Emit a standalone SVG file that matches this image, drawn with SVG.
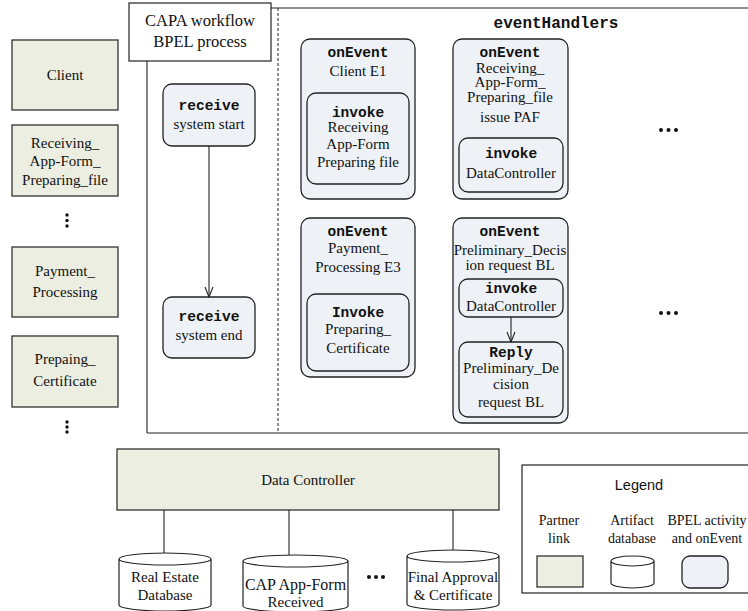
<svg xmlns="http://www.w3.org/2000/svg" width="748" height="611" viewBox="0 0 748 611">
<defs>
<style>
.pl{fill:#ebeee0;stroke:#333;stroke-width:1.3}
.act{fill:#eef1f6;stroke:#222;stroke-width:1.3}
.db{fill:#fff;stroke:#222;stroke-width:1.2}
.ln{fill:none;stroke:#222;stroke-width:1.1}
.t{font-family:"Liberation Serif","Times New Roman",serif;font-size:15px;fill:#111;text-anchor:middle}
.m{font-family:"Liberation Mono","Courier New",monospace;font-size:14.5px;font-weight:bold;fill:#111;text-anchor:middle}
.s{font-family:"Liberation Sans",Arial,sans-serif;font-size:14.5px;fill:#111;text-anchor:middle}
.lg{font-size:14px}
.dot{fill:#111}
</style>
<marker id="arr" viewBox="0 0 12 10" refX="11" refY="5" markerWidth="12" markerHeight="10" markerUnits="userSpaceOnUse" orient="auto">
<path d="M1,1 L11,5 L1,9" fill="none" stroke="#222" stroke-width="1.1"/>
</marker>
</defs>
<rect width="748" height="611" fill="#fff"/>

<!-- process frame -->
<g id="process-frame">
<line class="ln" x1="147" y1="61" x2="147" y2="433"/>
<line class="ln" x1="147" y1="433" x2="748" y2="433"/>
<line class="ln" x1="271" y1="8" x2="748" y2="8"/>
<line x1="278" y1="8" x2="278" y2="433" stroke="#222" stroke-width="1" stroke-dasharray="3,2"/>
<text class="m" x="556" y="28" style="font-size:16px">eventHandlers</text>
</g>

<g id="capa">
<rect x="129" y="3" width="142" height="58" fill="#fff" stroke="#222" stroke-width="1.2"/>
<text class="t" x="200" y="26" style="font-size:16.5px">CAPA workflow</text>
<text class="t" x="200" y="47" style="font-size:16.5px">BPEL process</text>
</g>

<!-- partner links -->
<g id="client">
<rect class="pl" x="12" y="40" width="106" height="70"/>
<text class="t" x="65" y="80">Client</text>
</g>
<g id="receiving">
<rect class="pl" x="12" y="125" width="106" height="71"/>
<text class="t" x="65" y="148">Receiving_</text>
<text class="t" x="65" y="166">App-Form_</text>
<text class="t" x="65" y="185">Preparing_file</text>
</g>
<g id="dots-left-1">
<circle class="dot" cx="67" cy="215" r="1.7"/>
<circle class="dot" cx="67" cy="220.5" r="1.7"/>
<circle class="dot" cx="67" cy="226" r="1.7"/>
</g>
<g id="payment">
<rect class="pl" x="12" y="247" width="106" height="70"/>
<text class="t" x="65" y="276">Payment_</text>
<text class="t" x="65" y="297">Processing</text>
</g>
<g id="prepaing">
<rect class="pl" x="12" y="336" width="106" height="71"/>
<text class="t" x="65" y="364">Prepaing_</text>
<text class="t" x="65" y="386">Certificate</text>
</g>
<g id="dots-left-2">
<circle class="dot" cx="67" cy="422" r="1.7"/>
<circle class="dot" cx="67" cy="427" r="1.7"/>
<circle class="dot" cx="67" cy="432" r="1.7"/>
</g>

<!-- receives -->
<g id="receive-start">
<rect class="act" x="163" y="84" width="92" height="62" rx="9"/>
<text class="m" x="209" y="110">receive</text>
<text class="t" x="209" y="129">system start</text>
</g>
<g id="receive-end">
<rect class="act" x="163" y="297" width="92" height="61" rx="9"/>
<text class="m" x="209" y="321">receive</text>
<text class="t" x="209" y="340">system end</text>
</g>

<!-- onEvent 1 -->
<g id="onevent-client">
<rect class="act" x="301" y="39" width="114" height="160" rx="9"/>
<text class="m" x="358" y="57">onEvent</text>
<text class="t" x="358" y="76">Client E1</text>
<rect class="act" x="307" y="93" width="102" height="91" rx="9"/>
<text class="m" x="358" y="117">invoke</text>
<text class="t" x="358" y="132">Receiving</text>
<text class="t" x="358" y="149">App-Form</text>
<text class="t" x="358" y="167">Preparing file</text>
</g>

<!-- onEvent 2 -->
<g id="onevent-receiving">
<rect class="act" x="453" y="39" width="115" height="160" rx="9"/>
<text class="m" x="510" y="57">onEvent</text>
<text class="t" x="510" y="73">Receiving_</text>
<text class="t" x="510" y="87">App-Form_</text>
<text class="t" x="510" y="102">Preparing_file</text>
<text class="t" x="510" y="122">issue  PAF</text>
<rect class="act" x="459" y="138" width="104" height="54" rx="9"/>
<text class="m" x="511" y="158">invoke</text>
<text class="t" x="511" y="178">DataController</text>
</g>

<!-- onEvent 3 -->
<g id="onevent-payment">
<rect class="act" x="301" y="218" width="114" height="159" rx="9"/>
<text class="m" x="358" y="236">onEvent</text>
<text class="t" x="358" y="253">Payment_</text>
<text class="t" x="358" y="272">Processing  E3</text>
<rect class="act" x="307" y="294" width="102" height="77" rx="9"/>
<text class="m" x="358" y="317">Invoke</text>
<text class="t" x="358" y="334">Preparing_</text>
<text class="t" x="358" y="353">Certificate</text>
</g>

<!-- onEvent 4 -->
<g id="onevent-preliminary">
<rect class="act" x="453" y="218" width="115" height="205" rx="9"/>
<text class="m" x="510" y="236">onEvent</text>
<text class="t" x="510" y="255">Preliminary_Decis</text>
<text class="t" x="510" y="270">ion  request  BL</text>
<rect class="act" x="459" y="279" width="104" height="38" rx="9"/>
<text class="m" x="511" y="293">invoke</text>
<text class="t" x="511" y="311">DataController</text>
<rect class="act" x="459" y="342" width="104" height="75" rx="9"/>
<text class="m" x="511" y="357">Reply</text>
<text class="t" x="511" y="373">Preliminary_De</text>
<text class="t" x="511" y="389">cision</text>
<text class="t" x="511" y="407">request BL</text>
</g>

<g id="dots-right">
<circle class="dot" cx="661" cy="130" r="2"/>
<circle class="dot" cx="668.5" cy="130" r="2"/>
<circle class="dot" cx="676" cy="130" r="2"/>
<circle class="dot" cx="661" cy="313" r="2"/>
<circle class="dot" cx="668.5" cy="313" r="2"/>
<circle class="dot" cx="676" cy="313" r="2"/>
</g>

<!-- Data Controller -->
<g id="data-controller">
<rect class="pl" x="117" y="449" width="382" height="61"/>
<text class="t" x="308" y="485">Data Controller</text>
</g>

<g id="db-realestate">
<path class="db" d="M119,559 L119,605 A46,6 0 0 0 211,605 L211,559 A46,6 0 0 0 119,559 A46,6 0 0 0 211,559"/>
<text class="t" x="165" y="582">Real Estate</text>
<text class="t" x="165" y="600">Database</text>
</g>
<g id="db-capappform">
<path class="db" d="M243,561 L243,606 A52.5,6 0 0 0 348,606 L348,561 A52.5,6 0 0 0 243,561 A52.5,6 0 0 0 348,561"/>
<text class="t" x="295.5" y="590" style="font-size:16px">CAP App-Form</text>
<text class="t" x="295.5" y="607">Received</text>
</g>
<g id="dots-db">
<circle class="dot" cx="369" cy="577" r="2"/>
<circle class="dot" cx="376" cy="577" r="2"/>
<circle class="dot" cx="383" cy="577" r="2"/>
</g>
<g id="db-final">
<path class="db" d="M407,556 L407,604 A46,6 0 0 0 499,604 L499,556 A46,6 0 0 0 407,556 A46,6 0 0 0 499,556"/>
<text class="t" x="453" y="582">Final Approval</text>
<text class="t" x="453" y="600">&amp; Certificate</text>
</g>

<!-- Legend -->
<g id="legend">
<rect x="522" y="465" width="240" height="128" fill="#fff" stroke="#222" stroke-width="1.2"/>
<text class="s" x="639" y="490">Legend</text>
<text class="t lg" x="559" y="525">Partner</text>
<text class="t lg" x="559" y="543">link</text>
<text class="t lg" x="632" y="525">Artifact</text>
<text class="t lg" x="632" y="543">database</text>
<text class="t lg" x="707" y="525">BPEL activity</text>
<text class="t lg" x="707" y="543">and onEvent</text>
<rect class="pl" x="537" y="556" width="46" height="31"/>
<path class="db" d="M611,561 L611,583 A21.5,5 0 0 0 654,583 L654,561 A21.5,5 0 0 0 611,561 A21.5,5 0 0 0 654,561"/>
<rect class="act" x="682" y="556" width="46" height="32" rx="8"/>
</g>

<!-- connectors -->
<g id="connectors">
<line class="ln" x1="209" y1="146" x2="209" y2="297" marker-end="url(#arr)"/>
<line class="ln" x1="511" y1="317" x2="511" y2="342" marker-end="url(#arr)"/>
<line class="ln" x1="164" y1="510" x2="164" y2="553"/>
<line class="ln" x1="289" y1="510" x2="289" y2="555"/>
<line class="ln" x1="453" y1="510" x2="453" y2="550"/>
</g>
</svg>
